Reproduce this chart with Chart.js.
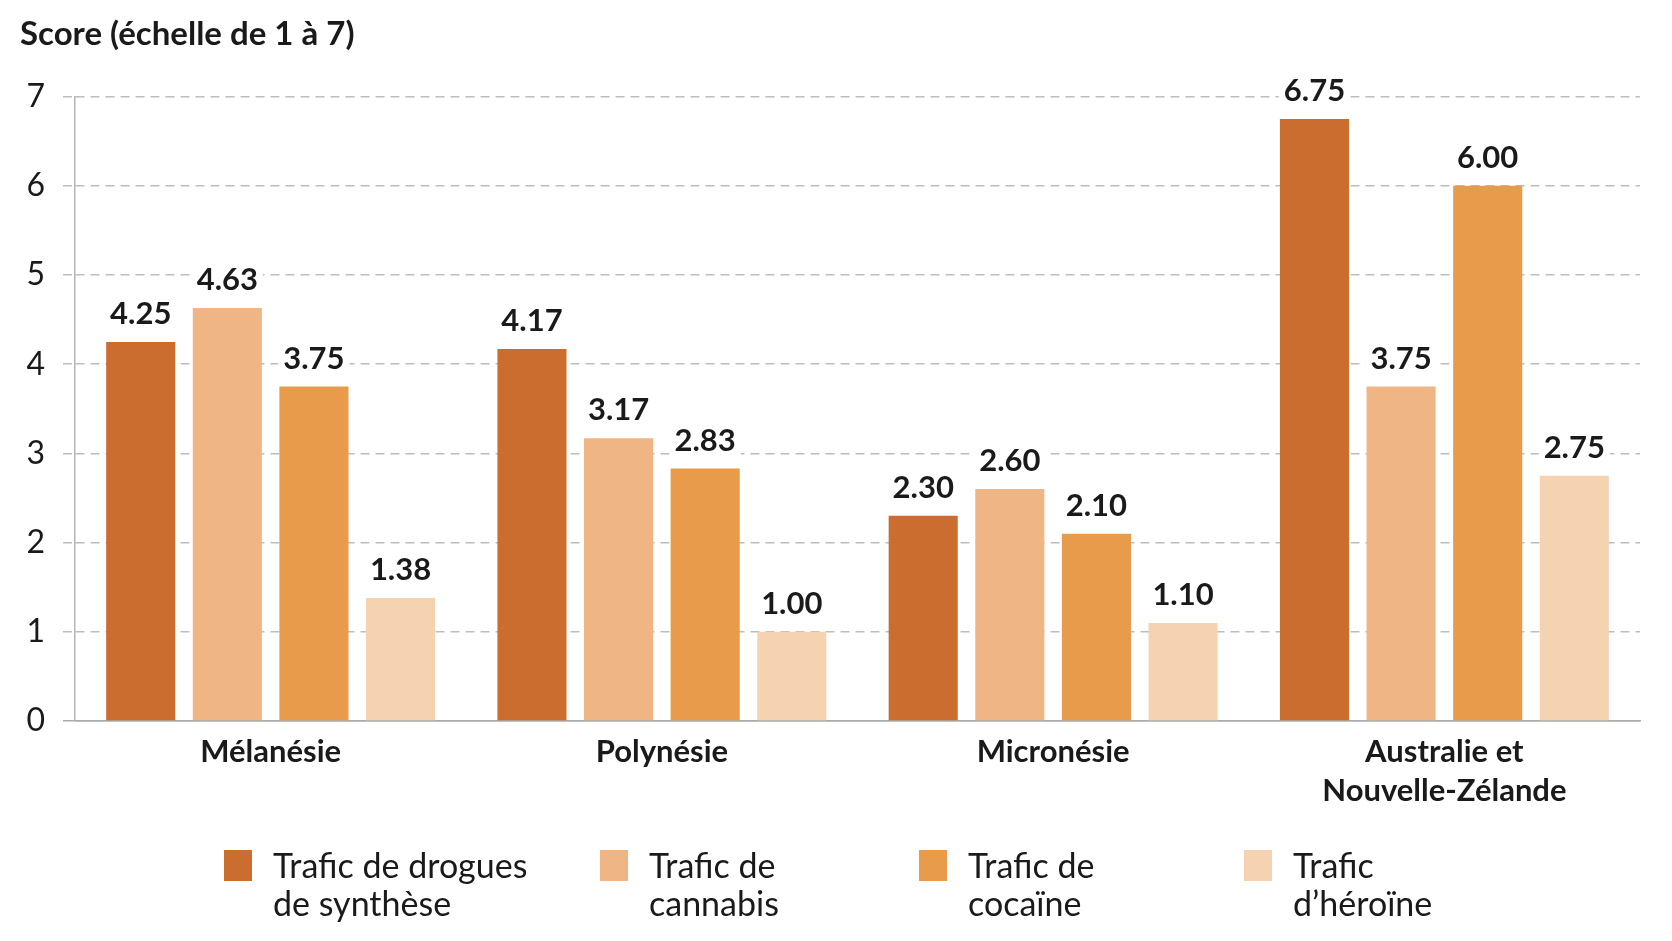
<!DOCTYPE html>
<html>
<head>
<meta charset="utf-8">
<script src="https://cdn.jsdelivr.net/npm/chart.js@4.4.1/dist/chart.umd.min.js"></script>
<style>
  html, body { margin: 0; padding: 0; background: #ffffff; }
  #wrap { position: relative; width: 1672px; height: 941px; overflow: hidden; }
  #c { position: absolute; left: 0; top: 0; }
  .leg { position: absolute; top: 846px; font-family: Lato, "Open Sans", sans-serif; font-size: 34px; line-height: 38px; color: #1a1a1a; }
  .leg .sw { position: absolute; left: 0; top: 4px; width: 28px; height: 31px; }
  .leg .tx { position: absolute; left: 49px; top: 0; white-space: nowrap; }
</style>
</head>
<body>
<div id="wrap">
  <canvas id="c" width="1672" height="941" style="width:1672px;height:941px"></canvas>
</div>
<script>
// ---- data ----
const categories = ['Mélanésie', 'Polynésie', 'Micronésie', ['Australie et', 'Nouvelle-Zélande']];
const synthetiques = [4.25, 4.17, 2.30, 6.75];
const cannabis = [4.63, 3.17, 2.60, 3.75];
const cocaine = [3.75, 2.83, 2.10, 6.00];
const heroine = [1.38, 1.00, 1.10, 2.75];
const seriesNames = [
  ['Trafic de drogues', 'de synthèse'],
  ['Trafic de', 'cannabis'],
  ['Trafic de', 'cocaïne'],
  ['Trafic', 'd\u2019héroïne']
];
const yTicks = [0, 1, 2, 3, 4, 5, 6, 7];
const axisTitle = 'Score (échelle de 1 à 7)';

// ---- style ----
const colors = ['#CB6D2E', '#F0B584', '#E79B4B', '#F5D3B1'];
const legendLefts = [224, 600, 919, 1244];
const FONT = 'Lato, "Open Sans", sans-serif';

const seriesValues = [synthetiques, cannabis, cocaine, heroine];

const valueLabels = {
  id: 'valueLabels',
  afterDatasetsDraw(chart) {
    const ctx = chart.ctx;
    ctx.save();
    ctx.font = 'bold 31px ' + FONT;
    ctx.textAlign = 'center';
    ctx.textBaseline = 'alphabetic';
    chart.data.datasets.forEach((ds, di) => {
      const meta = chart.getDatasetMeta(di);
      meta.data.forEach((bar, i) => {
        const txt = Number(ds.data[i]).toFixed(2);
        const w = ctx.measureText(txt).width;
        const base = bar.y - 18;
        ctx.fillStyle = '#ffffff';
        ctx.fillRect(bar.x - w / 2 - 5, base - 26, w + 10, 32);
        ctx.fillStyle = '#1a1a1a';
        ctx.fillText(txt, bar.x, base);
      });
    });
    ctx.restore();
  }
};

const chart = new Chart(document.getElementById('c'), {
  type: 'bar',
  data: {
    labels: categories,
    datasets: seriesValues.map((vals, k) => ({
      label: seriesNames[k].join(' '),
      data: vals,
      backgroundColor: colors[k],
      borderWidth: 0,
      categoryPercentage: 0.8855,
      barPercentage: 0.7977
    }))
  },
  options: {
    responsive: false,
    animation: false,
    devicePixelRatio: 1,
    layout: { padding: { left: 20, right: 32, top: 0, bottom: 0 } },
    plugins: {
      legend: { display: false },
      tooltip: { enabled: false },
      title: {
        display: true,
        text: axisTitle,
        align: 'start',
        color: '#1a1a1a',
        font: { family: FONT, size: 33, weight: 'bold', lineHeight: 1.2 },
        padding: { top: 15, bottom: 42 }
      }
    },
    scales: {
      x: {
        grid: { display: false, drawTicks: false },
        border: { display: true, color: '#ababab', width: 1.5 },
        ticks: {
          color: '#1a1a1a',
          padding: 12,
          maxRotation: 0,
          autoSkip: false,
          font: { family: FONT, size: 31, weight: 'bold', lineHeight: 1.25 }
        },
        afterFit(scale) { scale.height = 220; }
      },
      y: {
        min: 0,
        max: 7,
        afterBuildTicks(scale) { scale.ticks = yTicks.map(v => ({ value: v })); },
        grid: {
          color: ctx => ctx.tick && ctx.tick.value === 0 ? '#ababab' : '#bdbdbd',
          lineWidth: 1.5,
          tickLength: 12,
          tickColor: ctx => ctx.tick && ctx.tick.value === 0 ? '#ababab' : '#bdbdbd',
          tickWidth: 1.5,
          tickBorderDash: ctx => ctx.tick && ctx.tick.value === 0 ? [] : [9, 6]
        },
        border: {
          display: true,
          color: '#b5b5b5',
          width: 1.5,
          dash: ctx => (ctx.tick && ctx.tick.value !== 0) ? [9, 6] : []
        },
        ticks: {
          color: '#1a1a1a',
          padding: 18,
          font: { family: FONT, size: 32 },
          callback: v => String(v)
        },
        afterFit(scale) { scale.width = 55; }
      }
    }
  },
  plugins: [valueLabels]
});

// HTML legend built from the series arrays
const wrap = document.getElementById('wrap');
seriesNames.forEach((lines, k) => {
  const item = document.createElement('div');
  item.className = 'leg';
  item.style.left = legendLefts[k] + 'px';
  const sw = document.createElement('div');
  sw.className = 'sw';
  sw.style.background = colors[k];
  const tx = document.createElement('div');
  tx.className = 'tx';
  tx.innerHTML = lines.join('<br>');
  item.appendChild(sw);
  item.appendChild(tx);
  wrap.appendChild(item);
});
</script>
</body>
</html>
